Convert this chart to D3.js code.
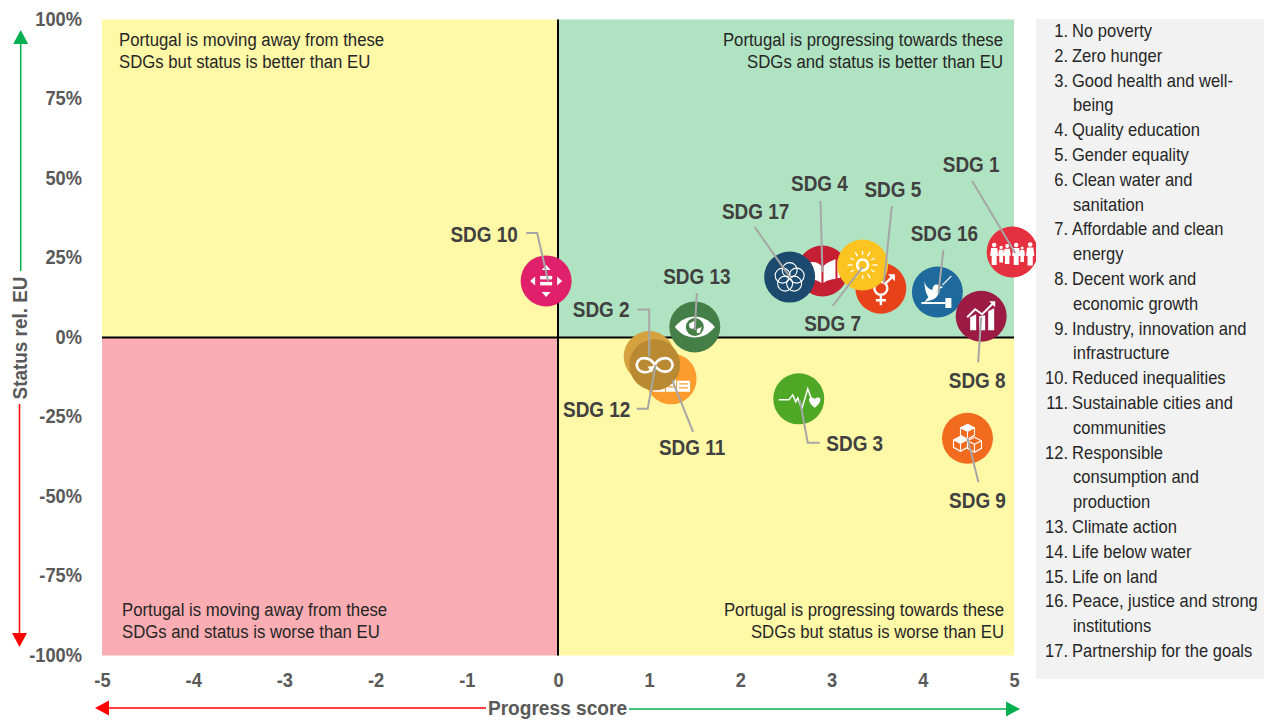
<!DOCTYPE html>
<html>
<head>
<meta charset="utf-8">
<script src="https://cdnjs.cloudflare.com/ajax/libs/d3/7.8.5/d3.min.js"></script>
<style>
  html, body { margin: 0; padding: 0; background: #fff; }
  svg { display: block; font-family: "Liberation Sans", Arial, sans-serif; }
</style>
</head>
<body>
<svg id="chart" width="1266" height="722"></svg>
<script>
const width = 1266
const height = 722
const margin = { top: 19.5, left: 102, bottom: 66.5, right: 252 }

// values
const sdgNumbers = [1, 2, 3, 4, 5, 7, 8, 9, 10, 11, 12, 13, 16, 17]
const progressScores = [4.98, 1.0, 2.64, 2.9, 3.54, 3.34, 4.64, 4.49, -0.13, 1.24, 1.06, 1.5, 4.16, 2.54]
const statusValues = [26.9, -6, -19.3, 20.9, 15.5, 22.8, 6.7, -31.7, 17.8, -13, -8.6, 3.3, 14.3, 19]
const xTicks = [-5, -4, -3, -2, -1, 0, 1, 2, 3, 4, 5]
const yTicks = [-100, -75, -50, -25, 0, 25, 50, 75, 100]

const goalNames = [
  ['No poverty'], ['Zero hunger'], ['Good health and well-', 'being'], ['Quality education'],
  ['Gender equality'], ['Clean water and', 'sanitation'], ['Affordable and clean', 'energy'],
  ['Decent work and', 'economic growth'], ['Industry, innovation and', 'infrastructure'],
  ['Reduced inequalities'], ['Sustainable cities and', 'communities'],
  ['Responsible', 'consumption and', 'production'], ['Climate action'], ['Life below water'],
  ['Life on land'], ['Peace, justice and strong', 'institutions'], ['Partnership for the goals']
]

const sdgColors = {
  1: '#e5303f', 2: '#d6a23f', 3: '#4ea725', 4: '#c41f33', 5: '#e8421a', 7: '#fdc320', 8: '#9b1b45',
  9: '#f26a1e', 10: '#e0206a', 11: '#fb9c2c', 12: '#b98a32', 13: '#437f46', 16: '#1f6a9c', 17: '#1b4a6e'
}
// draw order, last on top
const drawOrder = [11, 2, 12, 13, 3, 10, 4, 5, 17, 7, 1, 16, 8, 9]

// label centre and leader line, as pixel offsets from the bubble
const labelLayout = {
  1: { at: [-41, -87], leader: [[-40, -71], [3, 1]] },
  2: { at: [-48, -47], leader: [[-12, -47], [0, -47], [0, 0]] },
  3: { at: [56, 45], leader: [[21, 44], [9, 44], [1, 1]] },
  4: { at: [-3, -88], leader: [[-2, -70], [0, 1]] },
  5: { at: [12, -99], leader: [[11, -82], [3, -5]] },
  7: { at: [-30, 59], leader: [[-30, 41], [0, 2]] },
  8: { at: [-4, 64], leader: [[-3, 46], [0, 1]] },
  9: { at: [10, 62], leader: [[11, 44], [0, 0]] },
  10: { at: [-62, -46], leader: [[-20, -48], [-9, -48], [2, 0]] },
  11: { at: [21, 69], leader: [[22, 53], [1, 1]] },
  12: { at: [-58, 45], leader: [[-18, 44], [-7, 44], [1, 0]] },
  13: { at: [2, -51], leader: [[2, -34], [0, 3]] },
  16: { at: [7, -59], leader: [[6, -42], [1, 1]] },
  17: { at: [-34, -66], leader: [[-35, -50], [1, 1]] }
}

const quadrantNotes = [
  { lines: ['Portugal is moving away from these', 'SDGs but status is better than EU'], x: 119, y: 46, anchor: 'start' },
  { lines: ['Portugal is progressing towards these', 'SDGs and status is better than EU'], x: 1003, y: 46, anchor: 'end' },
  { lines: ['Portugal is moving away from these', 'SDGs and status is worse than EU'], x: 122, y: 616, anchor: 'start' },
  { lines: ['Portugal is progressing towards these', 'SDGs but status is worse than EU'], x: 1004, y: 616, anchor: 'end' }
]

const svg = d3.select('#chart')

const x = d3.scaleLinear().domain([-5, 5]).range([margin.left, width - margin.right])
const y = d3.scaleLinear().domain([-100, 100]).range([height - margin.bottom, margin.top])

// the source text is condensed
function squeeze (sel, k) {
  sel.each(function () {
    const len = this.getComputedTextLength()
    d3.select(this).attr('textLength', len * k).attr('lengthAdjust', 'spacingAndGlyphs')
  })
}

// quadrants
const quadrants = [
  { x0: -5, x1: 0, y0: 100, y1: 0, fill: '#fff8a6' },
  { x0: 0, x1: 5, y0: 100, y1: 0, fill: '#b0e3c1' },
  { x0: -5, x1: 0, y0: 0, y1: -100, fill: '#faadb3' },
  { x0: 0, x1: 5, y0: 0, y1: -100, fill: '#fff8a6' }
]
svg.append('g').selectAll('rect').data(quadrants).join('rect')
  .attr('x', d => x(d.x0))
  .attr('y', d => y(d.y0))
  .attr('width', d => x(d.x1) - x(d.x0))
  .attr('height', d => y(d.y1) - y(d.y0))
  .attr('fill', d => d.fill)

// zero lines
svg.append('line').attr('x1', x(-5)).attr('x2', x(5)).attr('y1', y(0)).attr('y2', y(0))
  .attr('stroke', '#000').attr('stroke-width', 2)
svg.append('line').attr('x1', x(0)).attr('x2', x(0)).attr('y1', y(100)).attr('y2', y(-100))
  .attr('stroke', '#000').attr('stroke-width', 2)

// axes
const xAxis = svg.append('g')
  .attr('transform', `translate(0,${height - margin.bottom})`)
  .call(d3.axisBottom(x).tickValues(xTicks).tickSize(0).tickPadding(17).tickFormat(d => String(d)))
const yAxis = svg.append('g')
  .attr('transform', `translate(${margin.left},0)`)
  .call(d3.axisLeft(y).tickValues(yTicks).tickSize(0).tickPadding(20).tickFormat(d => d + '%'))
xAxis.select('.domain').remove()
yAxis.select('.domain').remove()
svg.selectAll('.tick text')
  .attr('font-family', '"Liberation Sans", Arial, sans-serif')
  .attr('font-size', 21)
  .attr('font-weight', 'bold')
  .attr('fill', '#595959')
  .call(squeeze, 0.87)
yAxis.selectAll('.tick text').attr('dy', '0.28em')

// quadrant notes
quadrantNotes.forEach(n => {
  svg.append('g').selectAll('text').data(n.lines).join('text')
    .attr('x', n.x)
    .attr('y', (d, i) => n.y + i * 22)
    .attr('text-anchor', n.anchor)
    .attr('font-size', 18)
    .attr('fill', '#262626')
    .text(d => d)
    .call(squeeze, 0.93)
})

// direction arrows
const arrows = [
  { from: [20.7, 271], to: [20.7, 30], color: '#00b050' },
  { from: [19.5, 404], to: [19.5, 647], color: '#ff0000' },
  { from: [486, 708], to: [95, 708], color: '#ff0000' },
  { from: [629, 709], to: [1020, 709], color: '#00b050' }
]
arrows.forEach(a => {
  const ang = Math.atan2(a.to[1] - a.from[1], a.to[0] - a.from[0])
  const base = [a.to[0] - 14 * Math.cos(ang), a.to[1] - 14 * Math.sin(ang)]
  svg.append('line')
    .attr('x1', a.from[0]).attr('y1', a.from[1]).attr('x2', base[0]).attr('y2', base[1])
    .attr('stroke', a.color).attr('stroke-width', 1.5)
  const nx = -Math.sin(ang) * 7.5
  const ny = Math.cos(ang) * 7.5
  svg.append('path')
    .attr('d', `M${a.to}L${base[0] + nx},${base[1] + ny}L${base[0] - nx},${base[1] - ny}Z`)
    .attr('fill', a.color)
})

svg.append('text')
  .attr('x', 557.5).attr('y', 715)
  .attr('text-anchor', 'middle')
  .attr('font-size', 21).attr('font-weight', 'bold').attr('fill', '#595959')
  .text('Progress score')
  .call(squeeze, 0.91)
svg.append('text')
  .attr('transform', 'translate(27,338) rotate(-90)')
  .attr('text-anchor', 'middle')
  .attr('font-size', 21).attr('font-weight', 'bold').attr('fill', '#595959')
  .text('Status rel. EU')
  .call(squeeze, 0.9)

// white pictograms, drawn around the bubble centre
const line = d3.line()
const icons = {
  1 (g) {
    [[-18, 1], [-11, 0.75], [-5, 0.9], [4, 1], [10, 0.7], [18, 1.05]].forEach(([cx, s]) => {
      g.append('circle').attr('cx', cx).attr('cy', 3 - 10 * s).attr('r', 2.2 * s).attr('fill', '#fff')
      g.append('path')
        .attr('d', `M${cx - 3 * s},${3 - 7 * s} h${6 * s} l${s},${8 * s} h${-1.5 * s} v${9 * s} h${-5 * s} v${-9 * s} h${-1.5 * s}Z`)
        .attr('fill', '#fff')
    })
  },
  2 () {},
  3 (g) {
    g.append('path').attr('d', line([[-20, 1], [-10, 1], [-6, -4], [-3, 3], [-1, -1], [3, 10], [9, -10], [13, 1]]))
      .attr('fill', 'none').attr('stroke', '#fff').attr('stroke-width', 1.5)
    g.append('path').attr('d', 'M16,9 C7,2 10,-4 16,0 C22,-4 25,2 16,9Z').attr('fill', '#fff')
  },
  4 (g) {
    g.append('path').attr('d', 'M-14,-8 C-9,-10 -5,-9 -1,-5 L-1,12 C-5,9 -9,8 -14,9Z M1,-5 C5,-9 9,-10 13,-12 L13,8 C9,8 5,9 1,12Z').attr('fill', '#fff')
    g.append('rect').attr('x', 15).attr('y', -11).attr('width', 2.5).attr('height', 18).attr('fill', '#fff')
  },
  5 (g) {
    g.append('circle').attr('cy', 0).attr('r', 6.5).attr('fill', 'none').attr('stroke', '#fff').attr('stroke-width', 2.4)
    g.append('path').attr('d', 'M0,6 V17 M-5,12 H5 M4.5,-4.5 L12,-12').attr('stroke', '#fff').attr('stroke-width', 2.4).attr('fill', 'none')
    g.append('path').attr('d', 'M7,-14 H14 V-7Z').attr('fill', '#fff')
  },
  7 (g) {
    g.append('circle').attr('r', 5.5).attr('fill', 'none').attr('stroke', '#fff').attr('stroke-width', 2.5)
    d3.range(12).forEach(i => {
      const a = i * Math.PI / 6
      g.append('line')
        .attr('x1', Math.cos(a) * 10).attr('y1', Math.sin(a) * 10)
        .attr('x2', Math.cos(a) * (i % 2 ? 14 : 15)).attr('y2', Math.sin(a) * (i % 2 ? 14 : 15))
        .attr('stroke', '#fff').attr('stroke-width', 1.4)
    })
  },
  8 (g) {
    g.append('path').attr('d', 'M-11,1 L-11,14 L-5,14 L-5,-2Z M-2,0 L-2,14 L4,14 L4,-1Z M7,-5 L7,14 L13,14 L13,-8Z').attr('fill', '#fff')
    g.append('path').attr('d', line([[-14, 1], [-6, -7], [1, -2], [12, -13]])).attr('fill', 'none').attr('stroke', '#fff').attr('stroke-width', 2)
    g.append('path').attr('d', 'M8,-15 L14,-15 L14,-9Z').attr('fill', '#fff')
  },
  9 (g) {
    [[0, -7], [-7, 5], [7, 6]].forEach(([cx, cy], i) => {
      const c = g.append('g').attr('transform', `translate(${cx},${cy})`)
      c.append('path').attr('d', 'M0,-7 L7,-3.5 V4 L0,8 L-7,4 V-3.5Z M-7,-3.5 L0,0 L7,-3.5 M0,0 V8')
        .attr('fill', 'none').attr('stroke', '#fff').attr('stroke-width', 1.1)
      if (i < 2) c.append('path').attr('d', 'M0,-7 L7,-3.5 L0,0 L-7,-3.5Z').attr('fill', '#fff')
    })
  },
  10 (g) {
    g.append('path').attr('d', 'M0,-16 L4.5,-11 H-4.5Z M0,16 L4.5,11 H-4.5Z M-16,0 L-11,-4.5 V4.5Z M16,0 L11,-4.5 V4.5Z').attr('fill', '#fff')
    g.append('rect').attr('x', -6).attr('y', -5).attr('width', 12).attr('height', 3.5).attr('fill', '#fff')
    g.append('rect').attr('x', -6).attr('y', 1).attr('width', 12).attr('height', 3.5).attr('fill', '#fff')
  },
  11 (g) {
    g.append('path').attr('d', 'M-18,13 V8 H-12 V4 H-6 V13Z M-5,13 V-8 H-2 V-11 H2 V-8 H5 V13Z M6,13 V2 H19 V13Z').attr('fill', '#fff')
    g.append('path').attr('d', 'M8,5 H17 M8,9 H17 M-3,-4 H3 M-3,0 H3 M-3,4 H3 M-3,8 H3').attr('stroke', sdgColors[11]).attr('stroke-width', 1.2)
  },
  12 (g) {
    g.append('path').attr('d', 'M0,0 C-5,-9 -17,-9 -18,0 C-17,9 -5,9 -3,4 M0,0 C5,-9 17,-9 18,0 C17,9 5,9 0,0')
      .attr('fill', 'none').attr('stroke', '#fff').attr('stroke-width', 2.6)
    g.append('path').attr('d', 'M-7,2 L0,1 L-3,8Z').attr('fill', '#fff')
  },
  13 (g) {
    g.append('path').attr('d', 'M-20,0 C-9,-14 9,-14 20,0 C9,14 -9,14 -20,0Z').attr('fill', '#fff')
    g.append('circle').attr('r', 9).attr('fill', sdgColors[13])
    g.append('path').attr('d', 'M-6,-3 L-1,-6 L1,-2 L-2,2 L-5,1Z M2,2 L7,0 L5,6 L2,6Z').attr('fill', '#fff')
  },
  16 (g) {
    // dove, olive branch and gavel
    g.append('path')
      .attr('d', 'M-13,-11 C-12,-6 -9,-3 -5,-2 C-5,-7 -1,-9 2,-6 L6,-5 L2,-3 C2,3 -2,7 -6,8 L-13,10 L-9,5 C-12,1 -13,-5 -13,-11Z')
      .attr('fill', '#fff')
    g.append('path').attr('d', 'M5,-7 C8,-10 11,-13 14,-16').attr('stroke', '#fff').attr('stroke-width', 1.3).attr('fill', 'none').attr('opacity', 0.85)
    g.append('rect').attr('x', -16).attr('y', 10).attr('width', 24).attr('height', 2).attr('fill', '#fff')
    g.append('rect').attr('x', 8).attr('y', 6).attr('width', 6).attr('height', 10).attr('fill', '#fff')
  },
  17 (g) {
    [[0, -7], [-7, -1.5], [7, -1.5], [-4.5, 6.5], [4.5, 6.5]].forEach(([cx, cy]) => {
      g.append('circle').attr('cx', cx).attr('cy', cy).attr('r', 7.5)
        .attr('fill', 'none').attr('stroke', '#fff').attr('stroke-width', 1.1)
    })
  }
}

// bubbles
const byNumber = d3.index(sdgNumbers.map((n, i) => ({ n, p: progressScores[i], s: statusValues[i] })), d => d.n)
const bubbleData = drawOrder.map(n => byNumber.get(n))
const radius = 25.5

const bubbles = svg.append('g').selectAll('g').data(bubbleData).join('g')
  .attr('transform', d => `translate(${x(d.p)},${y(d.s)})`)
bubbles.append('circle')
  .attr('r', radius)
  .attr('fill', d => sdgColors[d.n])
bubbles.each(function (d) { icons[d.n](d3.select(this)) })

// leaders and labels go over all bubbles
svg.append('g').selectAll('path').data(bubbleData).join('path')
  .attr('transform', d => `translate(${x(d.p)},${y(d.s)})`)
  .attr('d', d => line(labelLayout[d.n].leader))
  .attr('fill', 'none')
  .attr('stroke', '#a6a6a6')
  .attr('stroke-width', 2)

svg.append('g').selectAll('text').data(bubbleData).join('text')
  .attr('x', d => x(d.p) + labelLayout[d.n].at[0])
  .attr('y', d => y(d.s) + labelLayout[d.n].at[1] + 7.5)
  .attr('text-anchor', 'middle')
  .attr('font-size', 22)
  .attr('font-weight', 'bold')
  .attr('fill', '#404040')
  .text(d => 'SDG ' + d.n)
  .call(squeeze, 0.86)

// goals list
svg.append('rect')
  .attr('x', 1036).attr('y', 19).attr('width', 228).attr('height', 660)
  .attr('fill', '#f2f2f2')

let row = 0
const legend = svg.append('g').attr('fill', '#262626').attr('font-size', 18)
goalNames.forEach((lines, i) => {
  legend.append('text')
    .attr('transform', `translate(1068,${37 + row * 24.8}) scale(0.92,1)`)
    .attr('text-anchor', 'end')
    .text((i + 1) + '.')
  lines.forEach((t, j) => {
    legend.append('text')
      .attr('transform', `translate(${j === 0 ? 1072 : 1073},${37 + row * 24.8}) scale(0.92,1)`)
      .text(t)
    row++
  })
})
</script>
</body>
</html>
